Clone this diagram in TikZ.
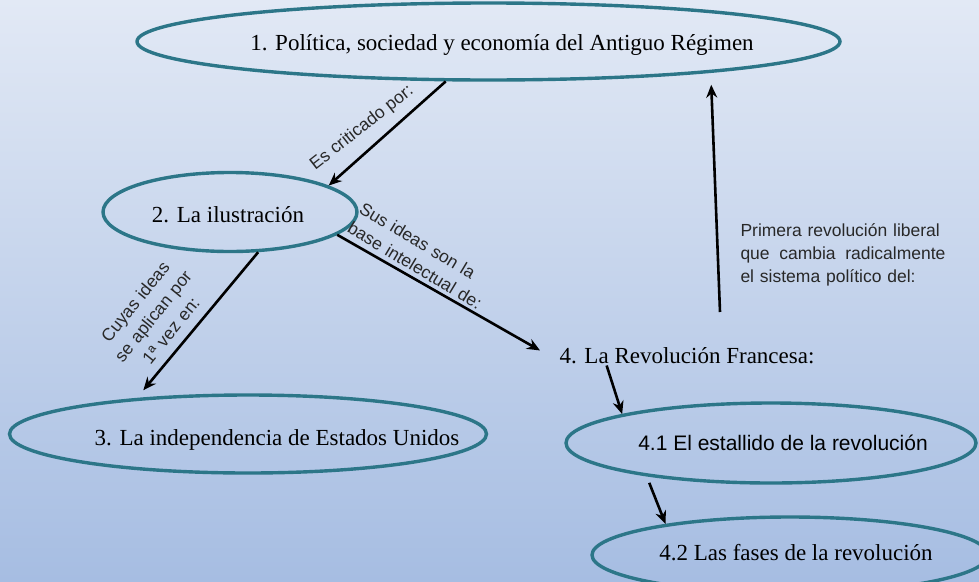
\documentclass[tikz,border=0pt]{standalone}
\usepackage{fontspec}
\setmainfont{Liberation Serif}
\newfontfamily\arialfont{Liberation Sans}
\usetikzlibrary{arrows.meta,calc,positioning,shapes.geometric}
\definecolor{fondoclaro}{RGB}{226,233,245}
\definecolor{fondoazul}{RGB}{166,189,226}
\definecolor{bordeteal}{RGB}{44,118,136}
\definecolor{textogris}{RGB}{40,40,40}
\tikzset{
  elipse/.style={
    ellipse,
    draw=bordeteal,
    line width=3.4pt,
    inner sep=0pt
  },
  titulo/.style={
    anchor=base,
    inner sep=2pt,
    font=\fontsize{23}{27}\selectfont
  },
  titulosans/.style={
    anchor=base,
    inner sep=2pt,
    font=\arialfont\fontsize{21}{25}\selectfont
  },
  etiqueta/.style={
    inner sep=1pt,
    text=textogris,
    font=\arialfont\fontsize{17.5}{23}\selectfont
  },
  arrow/.style={
    -{Stealth[length=13pt,width=11pt]},
    line width=2.6pt,
    black
  }
}

\begin{document}
\begin{tikzpicture}[x=1pt,y=-1pt]
\useasboundingbox (0,0) rectangle (979,581);
\clip (0,0) rectangle (979,581);
\shade[top color=fondoclaro,bottom color=fondoazul] (0,0) rectangle (979,581);
% elipses
\node[elipse,minimum width=703pt,minimum height=77pt] (a) at (488.5,41.5) {};
\node[elipse,minimum width=254pt,minimum height=79pt] (b) at (230,212) {};
\node[elipse,minimum width=477pt,minimum height=78pt] (c) at (248,434) {};
\node[elipse,minimum width=410pt,minimum height=80pt] (e) at (771,443) {};
\node[elipse,minimum width=396pt,minimum height=76pt] (f) at (790,555) {};
% textos
\node[titulo] (at) at (502,50) {1. Política, sociedad y economía del Antiguo Régimen};
\node[titulo] (bt) at (228,222) {2. La ilustración};
\node[titulo] (ct) at (277,445) {3. La independencia de Estados Unidos};
\node[titulo] (d) at (687,363) {4. La Revolución Francesa:};
\node[titulosans] (et) at (783,450) {4.1 El estallido de la revolución};
\node[titulo] (ft) at (796,560) {4.2 Las fases de la revolución};
% flechas
\draw[arrow] (a.223) -- (b.15);
\draw[arrow,shorten >=10pt] (b.305) -- (c.162);
\draw[arrow,shorten >=20pt] (b.348) -- ($(d.west)!.5!(d.south west)$);
\draw[arrow] ($(d.south west)!.19!(d.south east)$) -- (e.169);
\draw[arrow,shorten <=7pt] (e.195) -- (f.166);
\coordinate (p) at (720,312);
\draw[arrow,shorten >=12pt] (p) -- (a.352);
% etiquetas
\node[etiqueta,rotate=38] (l1) at (362,128) {Es criticado por:};
\node[etiqueta,rotate=51,text width=112pt,align=center] (l2) at (153,316) {Cuyas ideas\\se aplican por\\1ª vez en:};
\node[etiqueta,rotate=-31,text width=153pt,align=left] (l3) at (421,256) {Sus ideas son la\\base intelectual de:};
\node[etiqueta,text width=205pt,align=left] (l4) at (843,255) {Primera revolución liberal\\que\hfill cambia\hfill radicalmente\\el sistema político del:};
\end{tikzpicture}
\end{document}
